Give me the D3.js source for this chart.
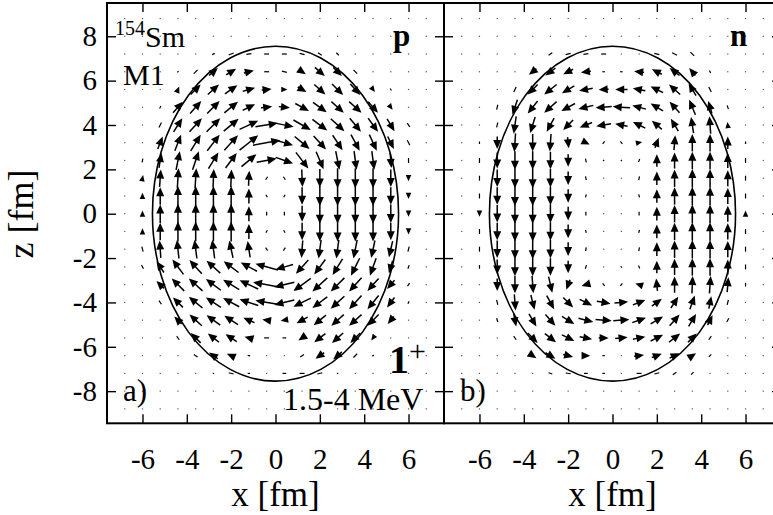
<!DOCTYPE html>
<html>
<head>
<meta charset="utf-8">
<script src="https://cdn.jsdelivr.net/npm/d3@7"></script>
<style>
  body { margin: 0; background: #fff; }
  svg text { font-family: "Liberation Serif", "Times New Roman", serif; fill: #000; }
</style>
</head>
<body>
<svg id="chart" width="773" height="515"></svg>
<script>
// Grid of the current field (fm)
const xCols = [-6.8,-6.0,-5.2,-4.4,-3.6,-2.8,-2.0,-1.2,-0.4,0.4,1.2,2.0,2.8,3.6,4.4,5.2,6.0,6.8];
const zRows = [8.8,8.0,7.2,6.4,5.6,4.8,4.0,3.2,2.4,1.6,0.8,0,-0.8,-1.6,-2.4,-3.2,-4.0,-4.8,-5.6,-6.4,-7.2,-8.0,-8.8];

// Axis ticks
const xTicks = [-6,-4,-2,0,2,4,6];
const zTicks = [8,6,4,2,0,-2,-4,-6,-8];

// Nuclear surface (semi-axes in fm: x, z)
const surfaceAxes = [5.55, 7.55];

// Proton current, x component (rows follow zRows, columns follow xCols)
const protonU = [
  [0,0,0,0,0,0,0,0,0,0,0,0,0,0,0,0,0,0],
  [0,0,0,0,0,0,0,0,0,0,0,0,0,0,0,0,0,0],
  [0,0,0,0,0,1,2,2,2,2,2,1.5,1,0,0,0,0,0],
  [0,0,0,0.5,1.5,3.5,4,4,2,2,3,4,3.5,1.5,0.3,0,0,0],
  [0,0,0,1,4,4.5,5,5,4,2.5,3.5,4.5,4.5,4,1.5,0.5,0,0],
  [0,0,0.5,4,4.5,5,5.5,5,4.5,4.5,5.5,5.5,5,5,4,1.5,0,0],
  [0,0,1,3.5,5,5.5,6,7.5,9,7.5,7,6,5.5,4.5,4,3,1,0],
  [0,0.2,2,2.5,4,5,5.5,7.5,11,7,6,5,4,3.5,3,2.5,1,0],
  [0,0.3,1,1.5,2.5,4,4.5,6,8,7,5,3,1.5,1,1,0.5,0,0],
  [0,0.5,0.5,0.5,0.5,0.3,0.3,0.3,0.8,0.8,0.3,0,0,0,0,0,0,0],
  [0,0,0,0,0,0,0,0,-0.6,-0.6,0,0,0,0,0,0,0,0],
  [0,0,0,0,0,0,0,0,0,0,0,0,0,0,0,0,0,0],
  [0,0,0,0,0,0,0,0,0.6,0.6,0,0,0,0,0,0,0,0],
  [0,-0.5,-0.5,-0.8,-1,-1,-1.5,-1,-0.8,-0.8,-0.5,-1,-1,-1.5,-1.5,-1.5,-0.5,0],
  [0,-0.8,-3,-4.5,-5,-5.5,-6,-6.5,-9,-7,-5,-4.5,-4,-3.5,-2.5,-1.5,-0.5,0],
  [0,-0.3,-3,-5,-5.5,-6,-6.5,-7.5,-11,-8,-7,-6,-5.5,-5,-4.5,-3,-0.8,0],
  [0,0,-1,-4,-5.5,-6,-6.5,-7.5,-9,-8,-7,-6,-5.5,-5,-4.5,-3,-0.5,0],
  [0,0,0,-3,-5,-5.5,-5.5,-4.5,-3.5,-3,-4.5,-5,-5,-5,-4.5,-2.5,0,0],
  [0,0,0,-1,-4,-4.5,-4.5,-3.5,-2,-1.5,-3,-4.5,-4.5,-4,-1.5,0,0,0],
  [0,0,0,0,-1.5,-3.5,-3.5,-1,-0.3,-0.5,-1.5,-3.5,-3.5,-1.5,-0.5,0,0,0],
  [0,0,0,0,0,-0.5,-2,-1,0,-1.5,-2,-2,-0.5,0,0,0,0,0],
  [0,0,0,0,0,0,0,0,0,0,0,0,0,0,0,0,0,0],
  [0,0,0,0,0,0,0,0,0,0,0,0,0,0,0,0,0,0]
];

// Proton current, z component
const protonW = [
  [0,0,0,0,0,0,0,0,0,0,0,0,0,0,0,0,0,0],
  [0,0,0,0,0,0,0,0,0,0,0,0,0,0,0,0,0,0],
  [0,0,0,0,0,0.5,0.8,0.3,0,0,-0.5,-1,-1,0,0,0,0,0],
  [0,0,0,0.5,1.5,3,2.5,1,0,-0.5,-2,-3.5,-3.5,-1.5,-0.3,0,0,0],
  [0,0,0,2.5,4,4,3.5,1.5,0.5,0,-2,-4,-4.5,-4.5,-2,-0.8,0,0],
  [0,0,1,4.5,5,5,4.5,2.5,0.5,-0.5,-3,-4,-4.5,-4.5,-4.5,-2,0,0],
  [0,0,2,5.5,5.5,5.5,5,3.5,1.5,-1.5,-4,-4.5,-5,-5.5,-5.5,-5,-1.5,0],
  [0,0.2,5,6.5,6.5,6.5,6,6,2,-2,-5,-5.5,-6,-6.5,-6.5,-5,-2,0],
  [0,1.5,6,7.5,7.5,6.5,6,5,1.5,-2.5,-6.5,-7,-7.5,-7.5,-7.5,-6,-2,0],
  [0,2.5,7,8,8,7.5,7,6,1.2,-1.2,-7,-7.5,-8,-8,-8,-7,-2.5,0],
  [0,2.5,7,8,8,8,8,6,1,-1,-7,-8,-8,-8,-8,-7,-2.5,0],
  [0,2.5,7.5,8,8,8,8,6,1.5,-1.5,-6.5,-8,-8,-8,-8,-7.5,-2.5,0],
  [0,2.5,7,8,8,8,8,6,1,-1,-7,-8,-8,-8,-8,-7,-2.5,0],
  [0,2,7,7.5,7.5,7.5,7,6.5,1.2,-1.2,-7,-7.5,-7.5,-7.5,-7,-6.5,-2,0],
  [0,1.5,4.5,6,5.5,5,4.5,3.5,2.5,-2,-5.5,-6,-6.5,-7,-7,-5,-1.5,0],
  [0,0.3,3,5,5,4.5,4,3.5,2,-2,-5,-5.5,-5.5,-5.5,-5,-3.5,-1.2,0],
  [0,0,1.5,4,4.5,4,3.5,2.5,1.5,-2,-3.5,-4.5,-5,-5.5,-5.5,-4,-1,0],
  [0,0,0,3,4.5,4,3.5,2,0.5,-0.5,-2.5,-4,-4.5,-4.5,-4.5,-3,0,0],
  [0,0,0,1.5,4,3.5,3,1,0,0,-2,-3.5,-4,-4,-2,0,0,0],
  [0,0,0,0,1,2.5,1.5,0.2,0,0,-1,-2.5,-3,-1.5,-0.5,0,0,0],
  [0,0,0,0,0,0.3,0.5,0,0,0,0,-0.5,-0.3,0,0,0,0,0],
  [0,0,0,0,0,0,0,0,0,0,0,0,0,0,0,0,0,0],
  [0,0,0,0,0,0,0,0,0,0,0,0,0,0,0,0,0,0]
];

// Neutron current, x component
const neutronU = [
  [0,0,0,0,0,0,0,0,0,0,0,0,0,0,0,0,0,0],
  [0,0,0,0,0,0,0,0,0,0,0,0,0,0,0,0,0,0],
  [0,0,0,0,-0.3,-1.5,-2,-2,-2,-0.5,-0.5,-2,-2,-1.5,0,0,0,0],
  [0,0,0,-0.3,-3,-4,-4,-4,-1,-1,-4,-4,-4,-2.5,-0.5,0,0,0],
  [0,0,0,-1,-4,-5,-5,-5.5,-4,-5,-5,-5,-4.5,-3,-1,0,0,0],
  [0,0,-0.5,-2,-4,-5,-5.5,-6,-6.5,-7,-5.5,-5,-4,-2.5,-1.5,-0.5,0,0],
  [0,0,-0.5,-1,-2,-3,-4,-5,-6,-5,-5,-4,-3,-1,-0.5,-0.3,0,0],
  [0,0,0,-0.5,0,-0.5,0.5,3,0.8,0.8,2.5,1.5,0.5,0,0,0,0,0],
  [0,0,0,0,0,0,0,-0.3,-0.3,0.3,0.5,0,0,0,0,0,0,0],
  [0,0,0,0,0,0,0,-0.3,0,0,0.3,0,0,0,0,0,0,0],
  [0,0,0,0,0,0,0,0.3,0,0,-0.3,0,0,0,0,0,0,0],
  [0,0,0,0,0,0,0,0,0,0,0,0,0,0,0,0,0,0],
  [0,0,0,0,0,0,0,-0.3,0,0,0.3,0,0,0,0,0,0,0],
  [0,0,0,0,0,0,0,0.3,0,0,0.3,0,0,0,0,0,0,0],
  [0,0,0,0,0,0,0,-0.5,0.3,-0.5,-0.5,0,0,0,0,0,0,0],
  [0,0,0,0,0.5,1.5,-1.5,-3.5,0.8,-0.8,-3,-0.5,0,0.3,0.5,0.5,0,0],
  [0,0,0.5,0.5,1.5,3,4,5,5.5,5.5,5,4,3,2,1,0.5,0,0],
  [0,0,0.5,1,3,4,5,6,6.5,6.5,5.5,5,4,3,2,0.8,0,0],
  [0,0,0,1,4,4.5,5,5,4,5,5,5,4.5,3.5,1,0,0,0],
  [0,0,0,0,3,4,4,3.5,1,0.3,4,4,4,3,1,0,0,0],
  [0,0,0,0,0,1.5,2,1.5,1,0.5,2,2,1.5,1,0,0,0,0],
  [0,0,0,0,0,0,0,0,0,0,0,0,0,0,0,0,0,0],
  [0,0,0,0,0,0,0,0,0,0,0,0,0,0,0,0,0,0]
];

// Neutron current, z component
const neutronW = [
  [0,0,0,0,0,0,0,0,0,0,0,0,0,0,0,0,0,0],
  [0,0,0,0,0,0,0,0,0,0,0,0,0,0,0,0,0,0],
  [0,0,0,0,-0.2,-1,-0.5,-0.3,0,0,0,0.5,1,1.5,0,0,0,0],
  [0,0,0,-0.3,-2.5,-3,-2,-0.5,0,0,0.5,2,3,3,1,0,0,0],
  [0,0,0,-2,-4,-4,-3,-1,-0.3,0,1,2.5,4,5,2,0,0,0],
  [0,0,-2,-6,-5,-4.5,-3,-1.5,-0.5,0.5,1.5,3,4.5,6,5,1.5,0,0],
  [0,0,-2,-7,-6.5,-5.5,-4,-2,-1,1,2.5,3.5,5,6.5,7,2.5,0,0],
  [0,-1,-5,-7.5,-7,-7,-4.5,-1.5,1,-1,0.5,4,6,7,7,5,1,0],
  [0,-2,-6.5,-7.5,-7.5,-7,-5,1.5,0.5,0.5,1.2,5,6.5,7,7,6,2,0],
  [0,-2,-7,-8,-8,-7.5,-5.5,1.5,0,0,1.5,5.5,7,7.5,7.5,6.5,2,0],
  [0,-2,-7,-8,-8,-7.5,-5.5,1.2,0,0,1.2,5.5,7,7.5,7.5,6.5,2,0],
  [0,-2.5,-7,-8,-8,-7.5,-5.5,1.5,0,0,1.5,5.5,7,7.5,7.5,6.5,2.5,0],
  [0,-2,-7,-8,-8,-7.5,-5.5,1.2,0,0,1.2,5.5,7,7.5,7.5,6.5,2,0],
  [0,-2,-7,-8,-8,-7.5,-5.5,1.5,0,0,1.5,5.5,7,7.5,7.5,6.5,2,0],
  [0,-1.5,-6,-7.5,-7.5,-7,-5,-1.5,-0.3,0.5,1.2,5,6.5,7,7,6,2,0],
  [0,0,-5,-7,-7,-6.5,-4,-1,-1,-1,1,5,6.5,7,7,6,1.5,0],
  [0,0,-2,-6.5,-6,-5.5,-4,-2.5,-1,0.5,2,3,4.5,5.5,5,2,0,0],
  [0,0,-1.5,-5,-5,-4.5,-3,-1.5,-0.5,0.5,2,3,4.5,5,4,1.5,0,0],
  [0,0,0,-1.5,-4,-3.5,-2.5,-1,0,0.5,1,2.5,3.5,3.5,1.5,0,0,0],
  [0,0,0,0,-2,-2.5,-1,0,0,0,0.5,1.5,2,2,1,0,0,0],
  [0,0,0,0,0,-0.5,-0.3,0,0,0,0,0.5,1,1,0,0,0,0],
  [0,0,0,0,0,0,0,0,0,0,0,0,0,0,0,0,0,0],
  [0,0,0,0,0,0,0,0,0,0,0,0,0,0,0,0,0,0]
];

const svg = d3.select("#chart");
const frameTop = 3, frameBottom = 423.3, panelWidth = 337;

const panels = [
  { left: 107, U: protonU, W: protonW, tag: "p", letter: "a)", yLabels: true },
  { left: 444, U: neutronU, W: neutronW, tag: "n", letter: "b)", yLabels: false }
];

// Arrow length per data unit, in fm
const arrowLen = d3.scaleLinear().domain([0, 10]).range([0, 1.12]);
const fmt = d => String(d);

panels.forEach(p => {
  const x = d3.scaleLinear().domain([-7.6, 7.6]).range([p.left, p.left + panelWidth]);
  const z = d3.scaleLinear().domain([-9.45, 9.5]).range([frameBottom, frameTop]);
  const g = svg.append("g");

  // vector field
  const vg = g.append("g");
  zRows.forEach((zv, i) => {
    xCols.forEach((xv, j) => {
      const u = arrowLen(p.U[i][j]), w = arrowLen(p.W[i][j]);
      const x0 = x(xv - u / 2), y0 = z(zv - w / 2);
      const x1 = x(xv + u / 2), y1 = z(zv + w / 2);
      const dx = x1 - x0, dy = y1 - y0;
      const L = Math.hypot(dx, dy);
      if (L < 1.3) {
        vg.append("rect").attr("x", x(xv) - 0.6).attr("y", z(zv) - 0.6)
          .attr("width", 1.2).attr("height", 1.2).attr("fill", "#555");
        return;
      }
      if (L < 6) {
        vg.append("line").attr("x1", x0).attr("y1", y0).attr("x2", x1).attr("y2", y1)
          .attr("stroke", "#000").attr("stroke-width", 1.2);
        return;
      }
      const ux = dx / L, uy = dy / L;
      const hl = Math.min(9, L), hw = 4 * hl / 9;
      const bx = x1 - ux * hl, by = y1 - uy * hl;
      if (L - hl > 0.5) {
        vg.append("line").attr("x1", x0).attr("y1", y0).attr("x2", bx + ux * 1.5).attr("y2", by + uy * 1.5)
          .attr("stroke", "#000").attr("stroke-width", 1.5);
      }
      vg.append("polygon")
        .attr("points", [[x1, y1], [bx - uy * hw, by + ux * hw], [bx + uy * hw, by - ux * hw]].map(q => q.join(",")).join(" "))
        .attr("fill", "#000");
    });
  });

  // nuclear surface
  g.append("ellipse")
    .attr("cx", x(0)).attr("cy", z(0))
    .attr("rx", x(surfaceAxes[0]) - x(0)).attr("ry", z(0) - z(surfaceAxes[1]))
    .attr("fill", "none").attr("stroke", "#000").attr("stroke-width", 1.6);

  // axes with inward ticks
  const bottom = g.append("g").attr("transform", `translate(0,${frameBottom})`)
    .call(d3.axisBottom(x).tickValues(xTicks).tickSizeInner(-9).tickSizeOuter(0).tickPadding(25).tickFormat(fmt));
  bottom.selectAll("text").attr("font-size", 29);
  g.append("g").attr("transform", `translate(0,${frameTop})`)
    .call(d3.axisTop(x).tickValues(xTicks).tickSizeInner(-9).tickSizeOuter(0).tickFormat(""));
  const left = g.append("g").attr("transform", `translate(${p.left},0)`)
    .call(d3.axisLeft(z).tickValues(zTicks).tickSizeInner(-9).tickSizeOuter(0).tickPadding(10).tickFormat(p.yLabels ? fmt : ""));
  left.selectAll("text").attr("font-size", 29);
  g.append("g").attr("transform", `translate(${p.left + panelWidth},0)`)
    .call(d3.axisRight(z).tickValues(zTicks).tickSizeInner(-9).tickSizeOuter(0).tickFormat(""));
  g.selectAll(".domain").remove();
  g.selectAll(".tick line").attr("stroke", "#000").attr("stroke-width", 1.4);
  g.selectAll(".tick text").attr("font-family", "Liberation Serif, serif").attr("fill", "#000");

  // frame
  g.append("rect").attr("x", p.left).attr("y", frameTop)
    .attr("width", panelWidth).attr("height", frameBottom - frameTop)
    .attr("fill", "none").attr("stroke", "#000").attr("stroke-width", 2);

  // panel tags
  g.append("text").attr("x", x(5.3)).attr("y", 46).attr("font-size", 31)
    .attr("font-weight", "bold").text(p.tag);
  g.append("text").attr("x", p.left + 16).attr("y", 401).attr("font-size", 31).text(p.letter);

  // axis title
  g.append("text").attr("x", x(0)).attr("y", 506).attr("text-anchor", "middle")
    .attr("font-size", 35).text("x [fm]");
});

// left-panel annotations
const ann = svg.append("g");
const sm = ann.append("text").attr("x", 115).attr("y", 47);
sm.append("tspan").attr("font-size", 20).attr("dy", -12).text("154");
sm.append("tspan").attr("font-size", 30).attr("dy", 12).text("Sm");
ann.append("text").attr("x", 123).attr("y", 85).attr("font-size", 30).text("M1");
const jp = ann.append("text").attr("x", 389).attr("y", 373).attr("font-weight", "bold");
jp.append("tspan").attr("font-size", 40).text("1");
jp.append("tspan").attr("font-size", 30).attr("font-weight", "normal").attr("dy", -12).text("+");
ann.append("text").attr("x", 283).attr("y", 410).attr("font-size", 32).text("1.5-4 MeV");

svg.append("text").attr("transform", "translate(33,214) rotate(-90)")
  .attr("text-anchor", "middle").attr("font-size", 36).text("z [fm]");
</script>
</body>
</html>
